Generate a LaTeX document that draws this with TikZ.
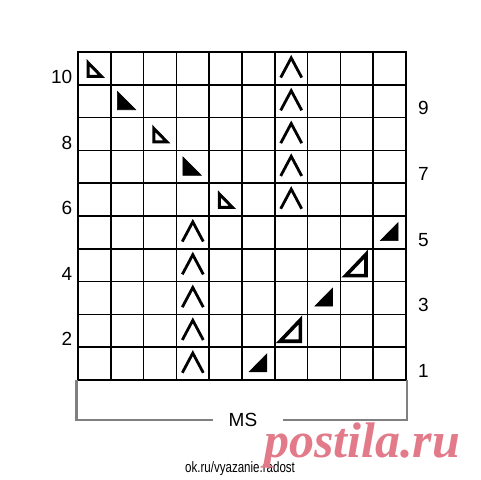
\documentclass[tikz,border=0pt]{standalone}
\usepackage{fontspec}
\setmainfont{Liberation Sans}
\newfontfamily\wmfont{Liberation Serif}
\usepackage{xcolor}
\usepackage{tikz}
\usetikzlibrary{positioning}
\definecolor{BracketGray}{RGB}{128,128,128}
\definecolor{WmPink}{RGB}{226,122,138}
\tikzset{
    gridline/.style={draw=black, line width=1.6pt, line cap=rect},
    rowlabel/.style={font=\fontsize{19}{19}\selectfont, inner sep=0pt},
    opentri/.style={draw=black, fill=white, line width=3pt, line join=miter},
    filltri/.style={draw=black, fill=black, line width=0.6pt, line join=miter},
    bigtri/.style={draw=black, fill=white, line width=3.6pt, line join=miter},
    decst/.style={draw=black, line width=2.8pt, line join=miter, line cap=butt},
    bracket/.style={draw=BracketGray, line width=2.4pt}
}

\begin{document}
\begin{tikzpicture}[x=32.8pt, y=32.8pt]
    \useasboundingbox (-2.378,-3.049) rectangle (12.256,11.585);
    % Raster
    \foreach \i in {0,...,10} {
        \draw[gridline] (\i,0) -- (\i,10);
        \draw[gridline] (0,\i) -- (10,\i);
    }
    % Reihennummern
    \foreach \k in {2,4,...,10}
        \node[rowlabel, anchor=east] (left\k) at (-0.17,\k-0.76) {\k};
    \foreach \k in {1,3,...,9}
        \node[rowlabel, anchor=west] (right\k) at (10.36,\k-0.72) {\k};
    % Abnahmen links
    \foreach \c/\r in {1/10,3/8,5/6}
        \draw[opentri, shift={(\c-1,\r-1)}] (.31,.67) -- (.31,.26) -- (.71,.26) -- cycle;
    \foreach \c/\r in {2/9,4/7}
        \draw[filltri, shift={(\c-1,\r-1)}] (.2,.8) -- (.2,.24) -- (.76,.24) -- cycle;
    % Abnahmen rechts
    \foreach \c/\r in {6/1,8/3,10/5}
        \draw[filltri, shift={(\c-1,\r-1)}] (.22,.25) -- (.76,.25) -- (.76,.8) -- cycle;
    \foreach \c/\r in {7/2,9/4}
        \draw[bigtri, shift={(\c-1,\r-1)}] (.16,.18) -- (.78,.18) -- (.78,.83) -- cycle;
    % Doppelte Abnahmen
    \foreach \r in {1,...,5}
        \draw[decst, shift={(3,\r-1)}] (.18,.22) -- (.5,.82) -- (.82,.22);
    \foreach \r in {6,...,10}
        \draw[decst, shift={(6,\r-1)}] (.18,.22) -- (.5,.82) -- (.82,.22);
    % Rapport
    \node[rowlabel] (ms) at (5.03,-1.22) {MS};
    \coordinate (bl) at (-0.05,0);
    \coordinate (br) at (10.03,0);
    \draw[bracket] (bl) |- ([xshift=-16pt]ms.west);
    \draw[bracket] (br) |- ([xshift=26pt]ms.east);
    % Quelle
    \node[font=\fontsize{15}{15}\selectfont, xscale=0.77] (src) at (4.94,-2.71) {ok.ru/vyazanie.radost};
    \node[font=\wmfont\bfseries\itshape\fontsize{50}{50}\selectfont, text=WmPink, anchor=base, inner sep=0pt] (wm) at (8.66,-2.35) {postila.ru};
\end{tikzpicture}
\end{document}
